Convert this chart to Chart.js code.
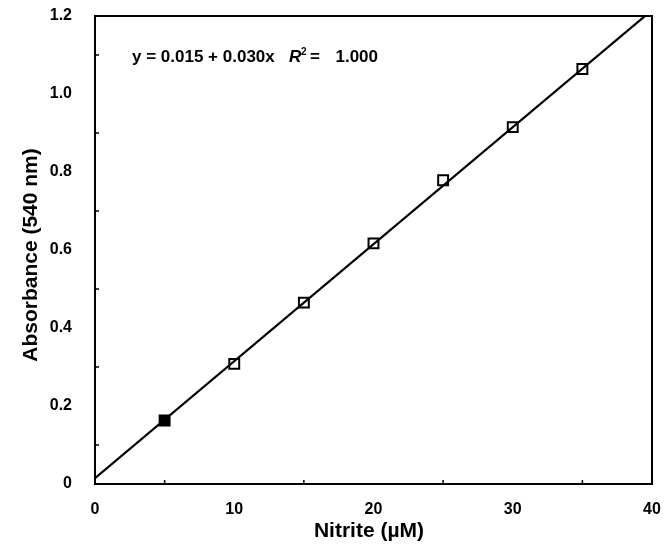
<!DOCTYPE html>
<html><head><meta charset="utf-8">
<script src="https://cdn.jsdelivr.net/npm/chart.js@4"></script>
<style>html,body{margin:0;padding:0;background:#fff}#wrap{width:671px;height:544px}</style>
</head><body><div id="wrap"><canvas id="c" width="671" height="544"></canvas></div>
<script>
const nitrite = [5, 10, 15, 20, 25, 30, 35];
const absorbance = [0.163, 0.308, 0.465, 0.617, 0.779, 0.915, 1.064];
const fitX = [0, 40];
const fitY = [0.015, 1.215];
const xTicks = [0, 10, 20, 30, 40];
const yTicks = [0, 0.2, 0.4, 0.6, 0.8, 1.0, 1.2];
const xMinor = [5, 15, 25, 35];
const yMinor = [0.1, 0.3, 0.5, 0.7, 0.9, 1.1];
const equationText = 'y = 0.015 + 0.030x';
const r2Eq = '=';
const r2Value = '1.000';
const xTitle = 'Nitrite (\u00b5M)';
const yTitle = 'Absorbance (540 nm)';

const FONT = '"Liberation Sans", Arial, sans-serif';

const decor = {
  id: 'decor',
  afterDraw(chart) {
    const ctx = chart.ctx, a = chart.chartArea;
    const xs = chart.scales.x, ys = chart.scales.y;
    ctx.save();
    ctx.strokeStyle = '#000';
    ctx.lineWidth = 2;
    ctx.strokeRect(a.left, a.top, a.right - a.left, a.bottom - a.top);
    ctx.lineWidth = 1.5;
    ctx.beginPath();
    xMinor.forEach(v => { const p = xs.getPixelForValue(v); ctx.moveTo(p, a.bottom); ctx.lineTo(p, a.bottom - 4); });
    yMinor.forEach(v => { const p = ys.getPixelForValue(v); ctx.moveTo(a.left, p); ctx.lineTo(a.left + 4, p); });
    ctx.stroke();
    ctx.fillStyle = '#000';
    ctx.font = 'bold 21px ' + FONT;
    ctx.textAlign = 'center';
    ctx.textBaseline = 'alphabetic';
    ctx.fillText(xTitle, 369, 537);
    ctx.translate(37, 255);
    ctx.rotate(-Math.PI / 2);
    ctx.fillText(yTitle, 0, 0);
    ctx.restore();
    ctx.save();
    ctx.fillStyle = '#000';
    ctx.textAlign = 'left';
    ctx.textBaseline = 'alphabetic';
    ctx.font = 'bold 17px ' + FONT;
    ctx.fillText(equationText, 132, 62);
    ctx.font = 'italic bold 17px ' + FONT;
    ctx.fillText('R', 289, 62);
    ctx.font = 'bold 10px ' + FONT;
    ctx.fillText('2', 301, 55);
    ctx.font = 'bold 17px ' + FONT;
    ctx.fillText(r2Eq, 310, 62);
    ctx.textAlign = 'right';
    ctx.fillText(r2Value, 378, 62);
    ctx.restore();
  }
};

new Chart(document.getElementById('c'), {
  type: 'scatter',
  data: {
    datasets: [
      {
        type: 'line',
        data: fitX.map((x, i) => ({x, y: fitY[i]})),
        borderColor: '#000', borderWidth: 2.2, pointRadius: 0, fill: false, tension: 0
      },
      {
        data: nitrite.map((x, i) => ({x, y: absorbance[i]})),
        pointStyle: 'rect', pointRadius: 7,
        pointBackgroundColor: nitrite.map((x, i) => i === 0 ? '#000' : '#fff'),
        pointBorderColor: '#000', pointBorderWidth: 2
      }
    ]
  },
  options: {
    responsive: false, animation: false,
    layout: { padding: { left: 0, right: 19, top: 16, bottom: 0 } },
    plugins: { legend: { display: false }, tooltip: { enabled: false } },
    scales: {
      x: {
        type: 'linear', min: 0, max: 40,
        afterFit(s) { s.height = 60; s.paddingLeft = 0; s.paddingRight = 0; },
        afterBuildTicks(s) { s.ticks = xTicks.map(v => ({value: v})); },
        grid: { display: false, drawTicks: true, tickLength: 7, tickColor: '#000', tickWidth: 2 },
        border: { display: true, color: '#000', width: 2 },
        ticks: { color: '#000', font: { family: FONT, size: 16, weight: 'bold' }, padding: 9, maxRotation: 0 }
      },
      y: {
        type: 'linear', min: 0, max: 1.2,
        afterFit(s) { s.width = 95; s.paddingTop = 0; s.paddingBottom = 0; },
        afterBuildTicks(s) { s.ticks = yTicks.map(v => ({value: v})); },
        grid: { display: false, drawTicks: true, tickLength: 8, tickColor: '#000', tickWidth: 2 },
        border: { display: true, color: '#000', width: 2 },
        ticks: { color: '#000', font: { family: FONT, size: 16, weight: 'bold' }, padding: 15,
          callback: v => v === 0 ? '0' : v.toFixed(1) }
      }
    }
  },
  plugins: [decor]
});
</script></body></html>
